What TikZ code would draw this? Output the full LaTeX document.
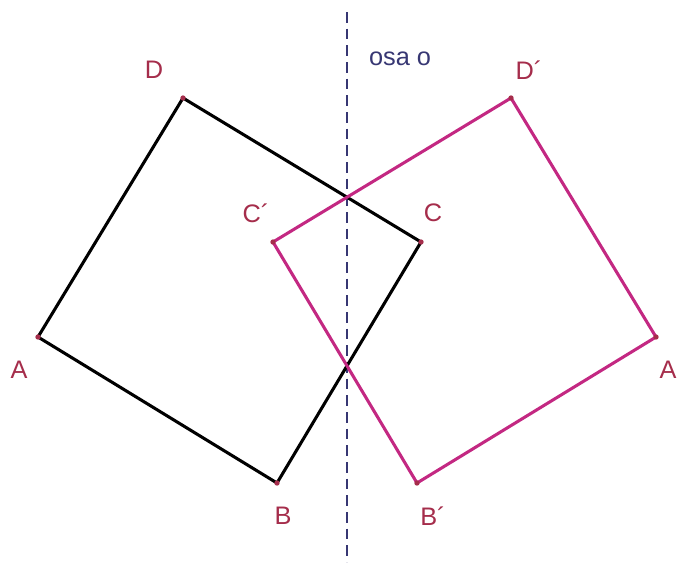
\documentclass[tikz,border=0pt]{standalone}
\usepackage{fontspec}
\setmainfont{Liberation Sans}
\usepackage{xcolor}
\usepackage{tikz}
\usetikzlibrary{positioning}

\definecolor{labelred}{RGB}{165,45,75}
\definecolor{imagemag}{RGB}{195,40,130}
\definecolor{axisblue}{RGB}{55,55,115}

\begin{document}
\begin{tikzpicture}[
    x=0.75pt, y=-0.75pt,
    lbl/.style={text=labelred, font=\fontsize{19}{22}\selectfont, inner sep=0pt},
    sqline/.style={line width=2.3pt, line join=miter},
    vertex/.style={circle, fill=labelred, inner sep=0pt, minimum size=4pt}
]
\useasboundingbox (0,0) rectangle (681,568);
% axis of symmetry
\coordinate (top) at (347,12);
\coordinate (bot) at (347,562);
\draw[axisblue, line width=1.1pt, dash pattern=on 8pt off 4.5pt] (top) -- (bot);
\node[text=axisblue, font=\fontsize{19}{22}\selectfont, inner sep=0pt] (axis) at (400,59) {osa o};
% original square
\coordinate (A) at (38,337);
\coordinate (B) at (277,483);
\coordinate (C) at (421,242);
\coordinate (D) at (183,98);
% mirrored square
\coordinate (A2) at (656,337);
\coordinate (B2) at (417,483);
\coordinate (C2) at (273,242);
\coordinate (D2) at (511,98);
\draw[sqline, black] (A) -- (B) -- (C) -- (D) -- cycle;
\draw[sqline, imagemag] (A2) -- (B2) -- (C2) -- (D2) -- cycle;
\foreach \v in {A,B,C,D,A2,B2,C2,D2}
  \node[vertex] at (\v) {};
% labels
\node[lbl] (lA) at (19,370) {A};
\node[lbl] (lB) at (283,516) {B};
\node[lbl] (lC) at (433,213) {C};
\node[lbl] (lD) at (154,70) {D};
\node[lbl] (lA2) at (668,370) {A};
\node[lbl] (lB2) at (433,516) {B´};
\node[lbl] (lC2) at (256,213) {C´};
\node[lbl] (lD2) at (529,70) {D´};
\end{tikzpicture}
\end{document}
